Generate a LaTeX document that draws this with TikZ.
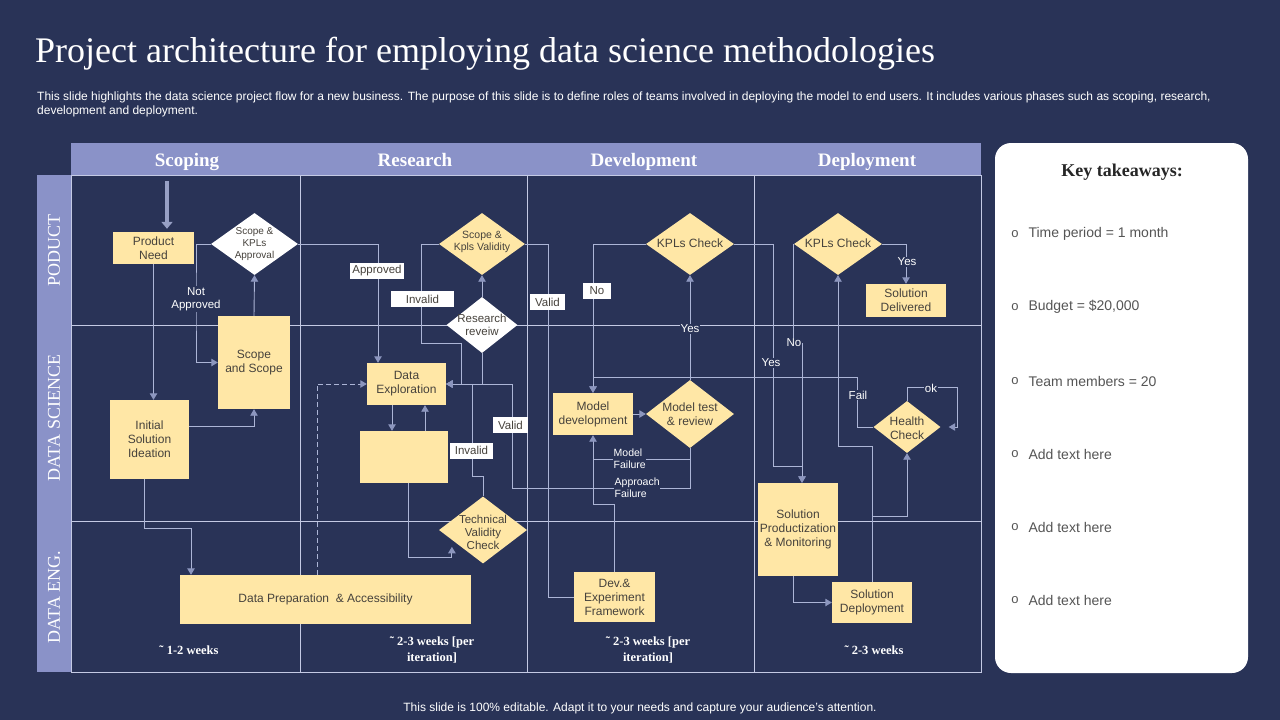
\documentclass[tikz,border=0pt]{standalone}
\usepackage{fontspec}
\setmainfont{Liberation Serif}
\setsansfont{Liberation Sans}
\usetikzlibrary{shapes.geometric,arrows.meta,calc}
\definecolor{bg}{RGB}{41,51,87}
\definecolor{lav}{RGB}{138,146,200}
\definecolor{boxy}{RGB}{255,231,166}
\definecolor{gridc}{RGB}{196,202,228}
\definecolor{connc}{RGB}{172,181,214}
\definecolor{arrc}{RGB}{140,150,190}
\definecolor{txtd}{RGB}{70,66,60}
\definecolor{ktxt}{RGB}{85,85,85}
\newcommand{\fsz}[2]{\fontsize{#1}{#2}\selectfont}
\tikzset{
  ybox/.style={fill=boxy, text=txtd, font=\sffamily\fsz{12}{14}, align=center, inner sep=1pt},
  ydia/.style={diamond, fill=boxy, inner sep=0pt},
  wdia/.style={diamond, fill=white, inner sep=0pt},
  dtxt/.style={text=txtd, font=\sffamily\fsz{11.5}{13}, align=center, inner sep=0pt},
  conn/.style={draw=connc, line width=0.9pt},
  arr/.style={conn, -{Triangle[width=7.5pt,length=6.5pt,color=arrc]}},
  wlab/.style={fill=white, text=txtd, font=\sffamily\fsz{11.5}{13}, inner sep=0pt, minimum height=16pt},
  tlab/.style={fill=bg, text=white, font=\sffamily\fsz{11.5}{13}, inner sep=1pt, align=center},
  slab/.style={fill=bg, text=white, font=\sffamily\fsz{10.5}{12}, inner sep=0.5pt, align=left, anchor=west},
  phase/.style={text=white, font=\bfseries\fsz{19}{21}, anchor=base},
  rowlab/.style={text=white, font=\fsz{18}{20}, rotate=90},
  weeks/.style={text=white, font=\bfseries\fsz{12.5}{16}, align=center},
  ktitem/.style={text=ktxt, font=\sffamily\fsz{14}{16}, anchor=west},
  ktbul/.style={text=ktxt, font=\sffamily\fsz{13}{15}},
}
\begin{document}
\begin{tikzpicture}[x=1pt,y=-1pt]
\useasboundingbox (0,0) rectangle (1280,720);
\fill[bg] (0,0) rectangle (1280,720);

% title and subtitle
\node[anchor=west, text=white, font=\fsz{36}{40}, inner sep=0pt] (title) at (35,54) {Project architecture for employing data science methodologies};
\node[anchor=west, text=white, font=\sffamily\fsz{12}{14}, inner sep=0pt] (sub1) at (37,97) {This slide highlights the data science project flow for a new business. The purpose of this slide is to define roles of teams involved in deploying the model to end users. It includes various phases such as scoping, research,};
\node[anchor=west, text=white, font=\sffamily\fsz{12}{14}, inner sep=0pt] (sub2) at (37,111) {development and deployment.};

% bands and grid
\fill[lav] (71,143) rectangle (981,175);
\fill[lav] (37,175) rectangle (71,672);
\draw[gridc, line width=0.8pt] (71,175) rectangle (981,672);
\draw[gridc, line width=0.8pt] (300,175) -- (300,672) (527,175) -- (527,672) (754,175) -- (754,672);
\draw[gridc, line width=0.8pt] (71,325) -- (981,325) (71,521) -- (981,521);

\node[phase] (h1) at (187,166) {Scoping};
\node[phase] (h2) at (415,166) {Research};
\node[phase] (h3) at (644,166) {Development};
\node[phase] (h4) at (867,166) {Deployment};
\node[rowlab] (r1) at (54,250) {PODUCT};
\node[rowlab] (r2) at (54,418) {DATA SCIENCE};
\node[rowlab] (r3) at (54,597) {DATA ENG.};

% ---------- nodes ----------
\node[ybox, minimum width=81pt, minimum height=32pt] (pn) at (153.5,248) {Product\\Need};
\node[wdia, minimum width=87pt, minimum height=62pt] (kp1) at (254.5,244) {};
\node[dtxt, font=\sffamily\fsz{10}{12}] (kp1t) at (254.5,244) {Scope \&\\KPLs\\Approval};
\node[ybox, minimum width=72pt, minimum height=93pt] (ss) at (254,362.5) {Scope\\and Scope};
\node[ybox, minimum width=79pt, minimum height=79pt] (isi) at (149.5,439.5) {Initial\\Solution\\Ideation};
\node[ybox, minimum width=79pt, minimum height=42pt] (de) at (406.5,384) {Data\\Exploration};
\node[ybox, minimum width=88pt, minimum height=52pt] (bl) at (404,457) {};
\node[ybox, minimum width=291pt, minimum height=49pt] (dp) at (325.5,599.5) {Data Preparation \ \& Accessibility};
\node[ydia, minimum width=88pt, minimum height=67pt] (tv) at (483,530) {};
\node[dtxt] (tvt) at (483,532) {Technical\\Validity\\Check};
\node[wdia, minimum width=71pt, minimum height=56pt] (rr) at (482,325) {};
\node[dtxt] (rrt) at (482,325) {Research\\reveiw};
\node[ydia, minimum width=86pt, minimum height=62pt] (kv) at (482,244) {};
\node[dtxt, font=\sffamily\fsz{10.5}{12.5}] (kvt) at (482,242) {Scope \&\\Kpls Validity};
\node[ybox, minimum width=80pt, minimum height=42pt] (md) at (593,414) {Model\\development};
\node[ydia, minimum width=88pt, minimum height=68pt] (mt) at (690,414) {};
\node[dtxt, font=\sffamily\fsz{12}{13.5}] (mtt) at (690,414) {Model test\\\& review};
\node[ybox, minimum width=81pt, minimum height=50pt] (dx) at (614.5,597) {Dev.\&\\Experiment\\Framework};
\node[ydia, minimum width=88pt, minimum height=62pt] (kc1) at (690,244) {};
\node[dtxt, font=\sffamily\fsz{12}{13.5}] (kc1t) at (690,243) {KPLs Check};
\node[ydia, minimum width=88pt, minimum height=62pt] (kc2) at (838,244) {};
\node[dtxt, font=\sffamily\fsz{12}{13.5}] (kc2t) at (838,243) {KPLs Check};
\node[ybox, minimum width=80pt, minimum height=33pt] (sd) at (906,300.5) {Solution\\Delivered};
\node[ybox, minimum width=80pt, minimum height=93pt] (sp) at (798,529.5) {Solution\\Productization\\\& Monitoring};
\node[ybox, minimum width=80pt, minimum height=41pt] (sdep) at (872,602.5) {Solution\\Deployment};
\node[ydia, minimum width=67pt, minimum height=52pt] (hc) at (907,427) {};
\node[dtxt, font=\sffamily\fsz{12}{13.5}] (hct) at (907,428) {Health\\Check};

% ---------- connectors ----------
\coordinate (tin) at (167,181);
\draw[draw=arrc!90!white, line width=4pt, -{Triangle[width=11pt,length=7pt]}] (tin) -- ([xshift=13.5pt,yshift=3pt]pn.north);

% scoping
\draw[arr] (kp1.west) -| (196,300) |- (ss.west);
\node[tlab] (lna) at (196,299) {Not\\Approved};
\draw[arr] (pn.south) -- (pn.south |- isi.north);
\draw[arr] (ss.north) -- (kp1.south);
\draw[arr] ([yshift=13.5pt]isi.east) -| (ss.south);
\draw[arr] ([xshift=-5.5pt]isi.south) |- (191,528) -- ([xshift=-134.5pt]dp.north);
\draw[arr, dashed, dash pattern=on 5pt off 3pt] ([xshift=-8.5pt]dp.north) |- (de.west);

% research
\draw[arr] (kp1.east) -| ([xshift=-28.5pt]de.north);
\node[wlab, minimum width=54pt] (lap) at (377,270.5) {Approved};
\draw[arr] ([xshift=-14.5pt]de.south) -- ([xshift=-12pt]bl.north);
\draw[arr] ([xshift=21pt]bl.north) -- ([xshift=18.5pt]de.south);
\draw[arr] ([xshift=4pt]bl.south) |- ([xshift=-9pt,yshift=-11pt]tv.south west) -- ([xshift=-9pt]tv.south west);
\draw[arr] (tv.north) -- ++(0,-20) -- ++(-11,0) |- (de.east);
\node[wlab, minimum width=43pt] (linv2) at (471.5,450.5) {Invalid};
\draw[arr] (rr.south) |- (de.east);
\draw[arr] (kv.west) -- ++(-17,0) -- ++(0,99) -- ++(40,0) |- (de.east);
\node[wlab, minimum width=63pt] (linv1) at (422.5,299) {Invalid};
\draw[arr] (rr.north) -- (kv.south);
\draw[conn] (dx.west) -- ++(-25,0) |- (kv.east);
\node[wlab, minimum width=35pt] (lval1) at (547.5,302) {Valid};

% development
\draw[arr] (mt.south) -- ++(0,40) -- ++(-178,0) |- (de.east);
\node[wlab, minimum width=35pt] (lval2) at (510.5,425) {Valid};
\draw[conn] (mt.south) -- ++(0,11) -- ++(-96,0);
\draw[arr] (dx.north) -- ++(0,-67) -| (md.south);
\node[slab] (lmf) at (613,459) {Model\\Failure};
\node[slab] (laf) at (614,488) {Approach\\Failure};
\draw[arr] (kc1.west) -| (md.north);
\node[wlab, minimum width=28pt] (lno1) at (597,291) {No};
\draw[arr] (mt.north) -- (kc1.south);
\node[tlab] (lyes1) at (690,329) {Yes};
\draw[arr] (md.east) -- (mt.west);
\draw[arr] (hc.west) -- ++(-16,0) -- ++(0,-50) -| (md.north);
\node[tlab] (lfail) at (858,395) {Fail};

% deployment
\draw[arr] (kc1.east) -- ++(39,0) -- ++(0,222) -| ([xshift=4pt]sp.north);
\node[tlab] (lyes2) at (771,363) {Yes};
\draw[arr] (kc2.west) -- ++(0,99) -| ([xshift=4pt]sp.north);
\node[tlab] (lno2) at (794,343) {No};
\draw[arr] (kc2.east) -| (sd.north);
\node[tlab] (lyes3) at (907,262) {Yes};
\draw[arr] (sdep.north) -- ++(0,-135) -| (kc2.south);
\draw[arr] (sdep.north) -- ++(0,-65) -| (hc.south);
\draw[arr] (hc.north) -- ++(0,-13) -- ++(50,0) |- ([xshift=8pt]hc.east);
\node[tlab] (lok) at (931,388) {ok};
\draw[arr] ([xshift=-5pt]sp.south) |- (sdep.west);

% durations
\node[weeks] (w1) at (189,650) {˜ 1-2 weeks};
\node[weeks] (w2) at (432,650) {˜ 2-3 weeks [per\\iteration]};
\node[weeks] (w3) at (648,650) {˜ 2-3 weeks [per\\iteration]};
\node[weeks] (w4) at (874,650) {˜ 2-3 weeks};

% key takeaways
\node[fill=white, rounded corners=16pt, minimum width=253pt, minimum height=530pt, inner sep=0pt] (kt) at (1121.5,408) {};
\node[text=black!85, font=\bfseries\fsz{18}{20}] (ktt) at (1122,172) {Key takeaways:};
\node[ktbul] (b1) at (1015,234) {o};
\node[ktitem] (t1) at (1025,234) {Time period = 1 month};
\node[ktbul] (b2) at (1015,307) {o};
\node[ktitem] (t2) at (1025,307) {Budget = \$20,000};
\node[ktbul] (b3) at (1015,381) {o};
\node[ktitem] (t3) at (1025,381) {Team members = 20};
\node[ktbul] (b4) at (1015,454) {o};
\node[ktitem] (t4) at (1025,454) {Add text here};
\node[ktbul] (b5) at (1015,527) {o};
\node[ktitem] (t5) at (1025,527) {Add text here};
\node[ktbul] (b6) at (1015,600) {o};
\node[ktitem] (t6) at (1025,600) {Add text here};

% footer
\node[text=white, font=\sffamily\fsz{12}{14}] (foot) at (640,708) {This slide is 100\% editable. Adapt it to your needs and capture your audience’s attention.};
\end{tikzpicture}
\end{document}
